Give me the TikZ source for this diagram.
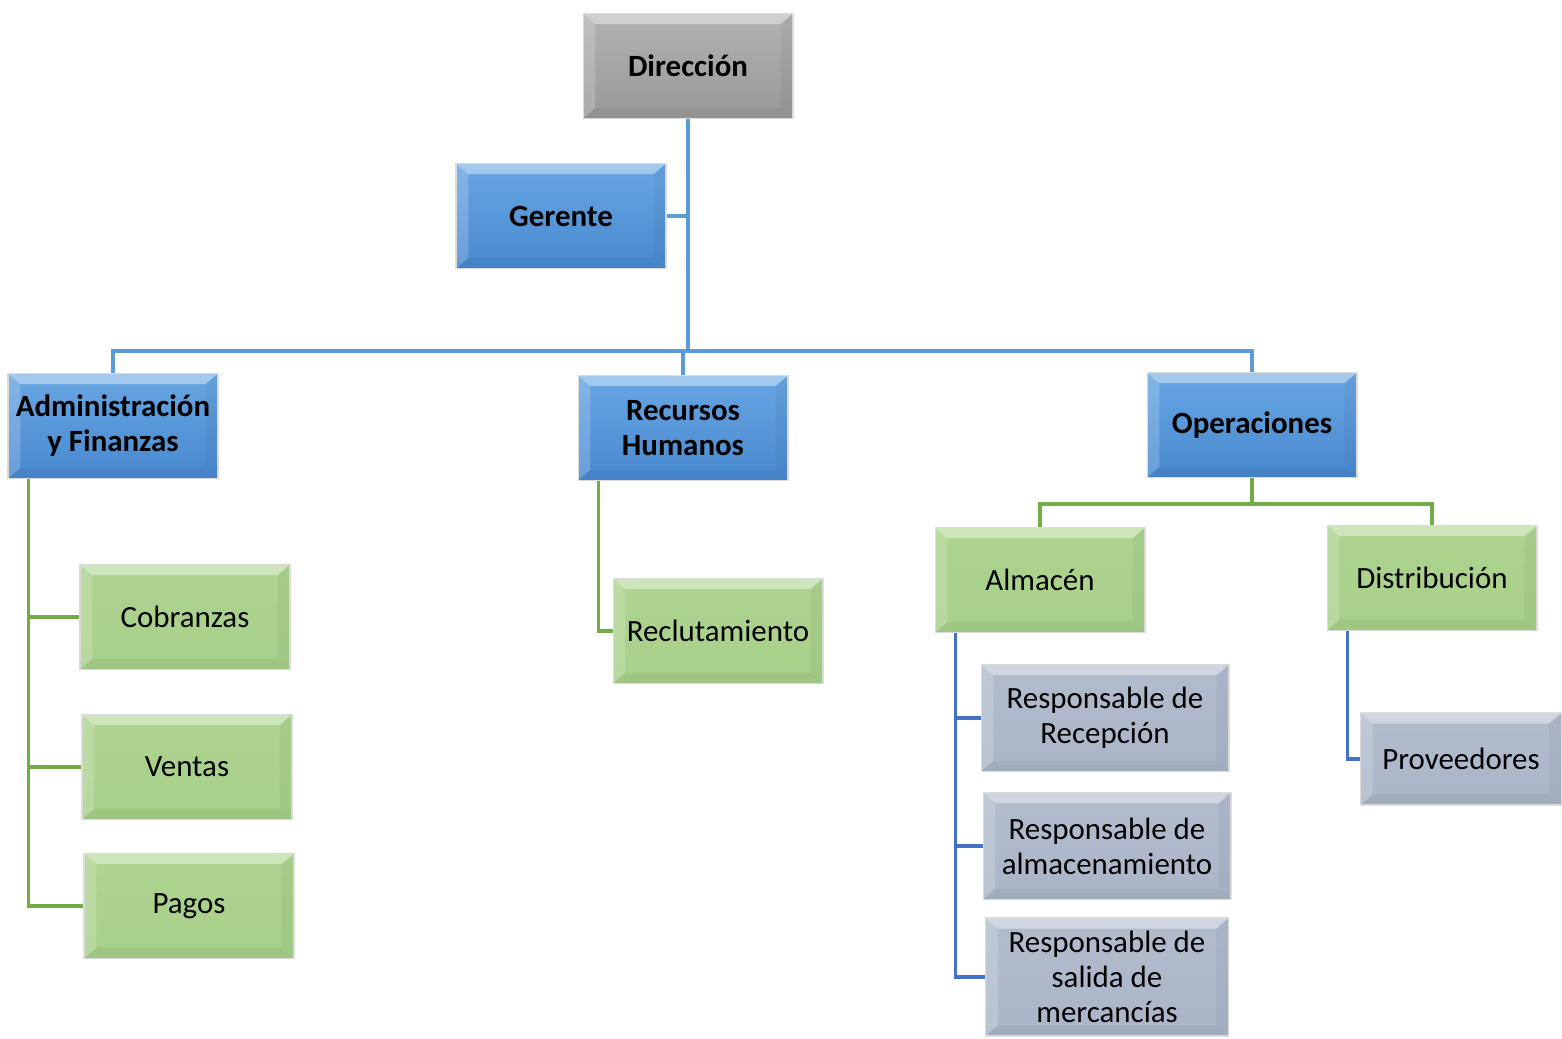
\documentclass[tikz,border=0pt]{standalone}
\usepackage{fontspec}
\setmainfont{Carlito}
\usepackage{xcolor}
\usetikzlibrary{calc}
\definecolor{dirTop}{HTML}{B2B2B2}
\definecolor{dirBot}{HTML}{999999}
\definecolor{blueTop}{HTML}{68A6E2}
\definecolor{blueBot}{HTML}{4889D0}
\definecolor{greenTop}{HTML}{AED48F}
\definecolor{greenBot}{HTML}{A7D08A}
\definecolor{slateTop}{HTML}{B1BCCD}
\definecolor{slateBot}{HTML}{AAB6C8}
\definecolor{linkBlue}{HTML}{5B9BD5}
\definecolor{linkGreen}{HTML}{70AD47}
\definecolor{linkDark}{HTML}{4472C4}
\tikzset{
  bevel/.style = {path picture={
      \path (path picture bounding box.north west) coordinate (pNW)
            (path picture bounding box.north east) coordinate (pNE)
            (path picture bounding box.south west) coordinate (pSW)
            (path picture bounding box.south east) coordinate (pSE);
      \fill[white, opacity=.40] (pNW) -- (pNE) -- ($(pNE)+(-7pt,-6pt)$) -- ($(pNW)+(7pt,-6pt)$) -- cycle;
      \fill[white, opacity=.18] (pNW) -- ($(pNW)+(7pt,-6pt)$) -- ($(pSW)+(7pt,6pt)$) -- (pSW) -- cycle;
      \fill[black, opacity=.04] (pNE) -- ($(pNE)+(-7pt,-6pt)$) -- ($(pSE)+(-7pt,6pt)$) -- (pSE) -- cycle;
      \fill[black, opacity=.05] (pSW) -- ($(pSW)+(7pt,6pt)$) -- ($(pSE)+(-7pt,6pt)$) -- (pSE) -- cycle;
    }},
  box/.style   = {rectangle, align=center, inner sep=2pt, bevel,
                  draw=white!72!gray, line width=0.6pt,
                  minimum width=4.2cm, minimum height=2.1cm,
                  font=\fontsize{17.6}{20}\selectfont},
  boxG/.style  = {box, top color=dirTop, bottom color=dirBot,
                  font=\fontsize{17.6}{20}\selectfont\bfseries},
  boxB/.style  = {box, top color=blueTop, bottom color=blueBot,
                  font=\fontsize{17.6}{20}\selectfont\bfseries},
  boxV/.style  = {box, top color=greenTop, bottom color=greenBot},
  boxS/.style  = {box, top color=slateTop, bottom color=slateBot,
                  minimum width=4.96cm, minimum height=2.14cm},
  linkB/.style = {draw=linkBlue, line width=2.1pt},
  linkG/.style = {draw=linkGreen, line width=2.1pt},
  linkD/.style = {draw=linkDark, line width=2.1pt},
}

\begin{document}
\begin{tikzpicture}[x=0.02cm, y=-0.02cm]
  \useasboundingbox (0,0) rectangle (1562,1038);

  % top levels
  \node[boxG] (dir) at (688,66)   {Dirección};
  \node[boxB] (ger) at (561,216)  {Gerente};
  \node[boxB] (adm) at (113,426)  {Administración\\y Finanzas};
  \node[boxB] (rh)  at (683,428)  {Recursos\\Humanos};
  \node[boxB] (ops) at (1252,425) {Operaciones};

  % departments
  \node[boxV] (alm) at (1040,580) {Almacén};
  \node[boxV] (dis) at (1432,578) {Distribución};
  \node[boxV] (cob) at (185,617)  {Cobranzas};
  \node[boxV] (ven) at (187,767)  {Ventas};
  \node[boxV] (pag) at (189,906)  {Pagos};
  \node[boxV] (rec) at (718,631)  {Reclutamiento};

  % staff
  \node[boxS] (rrec) at (1105,718) {Responsable de\\Recepción};
  \node[boxS] (ralm) at (1107,846) {Responsable de\\almacenamiento};
  \node[boxS, minimum width=4.86cm, minimum height=2.36cm] (rsal) at (1107,977)
    {Responsable de\\salida de\\mercancías};
  \node[boxS, minimum width=4.02cm, minimum height=1.84cm] (prov) at (1461,759) {Proveedores};

  % connectors
  \coordinate (bus) at (688,351);
  \draw[linkB] (dir.south) -- (bus);
  \draw[linkB] (ger.east) -- (ger.east -| bus);
  \draw[linkB] (adm.north) |- (bus) -| (ops.north);
  \draw[linkB] (rh.north) -- (rh.north |- bus);

  \coordinate (admT) at ([xshift=0.42cm]adm.south west);
  \draw[linkG] (admT) |- (cob.west);
  \draw[linkG] (admT) |- (ven.west);
  \draw[linkG] (admT) |- (pag.west);

  \draw[linkG] ([xshift=0.42cm]rh.south west) |- (rec.west);

  \coordinate (opsB) at (1253,504);
  \draw[linkG] (ops.south) -- (ops.south |- opsB);
  \draw[linkG] (alm.north) |- (opsB) -| (dis.north);

  \coordinate (almT) at ([xshift=0.42cm]alm.south west);
  \draw[linkD] (almT) |- (rrec.west);
  \draw[linkD] (almT) |- (ralm.west);
  \draw[linkD] (almT) |- (rsal.west);

  \draw[linkD] ([xshift=0.42cm]dis.south west) |- (prov.west);
\end{tikzpicture}
\end{document}
